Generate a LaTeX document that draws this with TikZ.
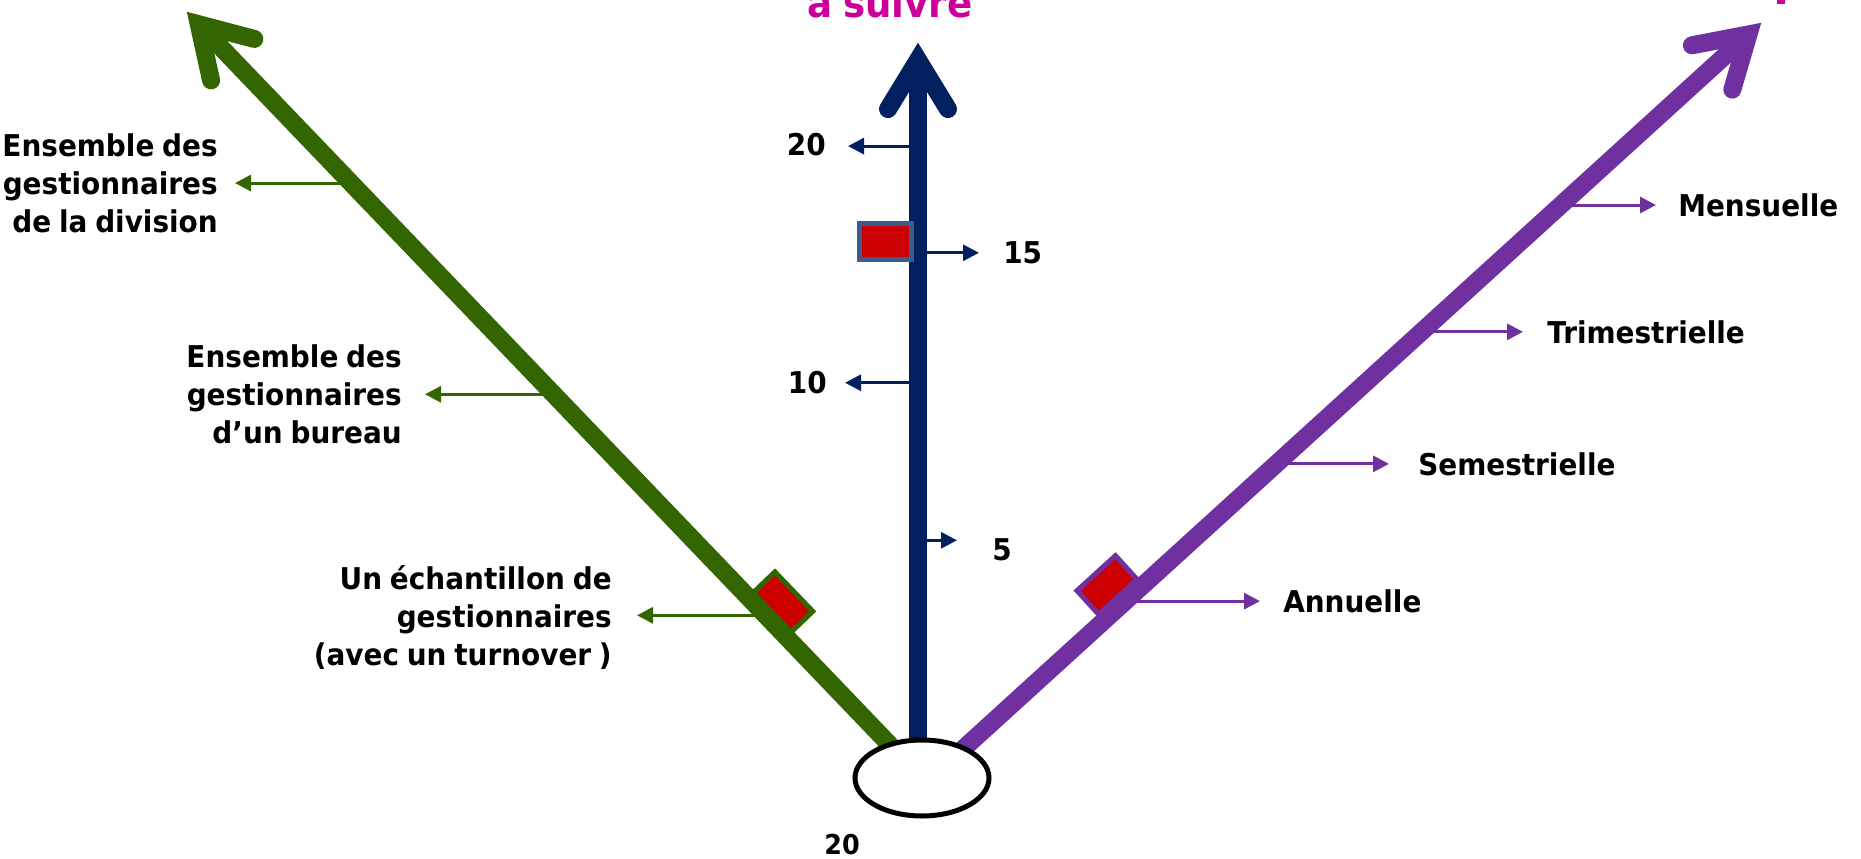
\documentclass[tikz,border=0pt]{standalone}
\usepackage{fontspec}
\setmainfont{DejaVu Sans}[FakeStretch=0.93, WordSpace=0.8]
\usetikzlibrary{arrows.meta,calc,shapes.geometric}
\definecolor{gr}{HTML}{336600}
\definecolor{nv}{HTML}{002060}
\definecolor{pu}{HTML}{7030A0}
\definecolor{rd}{HTML}{CC0000}
\definecolor{sb}{HTML}{385D8A}
\definecolor{mg}{HTML}{CC0099}
\newcommand\bigtip[3]{\draw[#3, line width=13.5pt, line cap=round, line join=miter]
  ($(#1)!54.4pt!24.4:(#2)$) -- ($(#1)!12.75pt!(#2)$) -- ($(#1)!54.4pt!-24.4:(#2)$);}
\begin{document}
\begin{tikzpicture}[x=0.75pt,y=-0.75pt,
  lbl/.style={font=\fontsize{22.5pt}{28.5pt}\selectfont\bfseries, inner sep=0pt, text=black},
  thin/.style={line width=2.25pt, -{Triangle[length=12pt,width=12pt]}},
  axisline/.style={line width=13.5pt},
  marker/.style={rectangle, fill=rd, line width=3.75pt, inner sep=0pt}]
\useasboundingbox (0,0) rectangle (1861,859);
\clip (0,0) rectangle (1861,859);

% axis end points
\coordinate (gS) at (913,769); \coordinate (gT) at (187,12);
\coordinate (bS) at (918,769); \coordinate (bT) at (918,43);
\coordinate (pS) at (941,769); \coordinate (pT) at (1761,23);

% title fragments
\node[font=\fontsize{30pt}{36pt}\selectfont\bfseries, text=mg, anchor=base, inner sep=0pt] (T) at (890,18) {à suivre};
\fill[mg] (1777,0) rectangle (1785,4);

% green labels
\node[lbl, align=right, anchor=north east] (G1) at (218,133) {Ensemble des\\gestionnaires\\de la division};
\node[lbl, align=right, anchor=north east] (G2) at (402,344) {Ensemble des\\gestionnaires\\d’un bureau};
\node[lbl, align=right, anchor=north east] (G3) at (612,565) {Un échantillon de\\gestionnaires\\(avec un turnover )};
\coordinate (g1) at ($(gS)!0.774!(gT)$); \coordinate (g1e) at (235,183);
\coordinate (g2) at ($(gS)!0.495!(gT)$); \coordinate (g2e) at (425,394);
\coordinate (g3) at ($(gS)!0.203!(gT)$); \coordinate (g3e) at (637,615);
\draw[thin, gr] (g1) -- (g1 -| g1e);
\draw[thin, gr] (g2) -- (g2 -| g2e);
\draw[thin, gr] (g3) -- (g3 -| g3e);

% blue labels
\node[lbl, anchor=east] (N20) at (826,145) {20};
\node[lbl, anchor=west] (N15) at (1003,253) {15};
\node[lbl, anchor=east] (N10) at (827,383) {10};
\node[lbl, anchor=west] (N5) at (992,550) {5};
\coordinate (b20) at ($(bS)!0.858!(bT)$); \coordinate (b20e) at (848,0);
\coordinate (b15) at ($(bS)!0.711!(bT)$); \coordinate (b15e) at (979,0);
\coordinate (b10) at ($(bS)!0.532!(bT)$); \coordinate (b10e) at (845,0);
\coordinate (b5)  at ($(bS)!0.315!(bT)$); \coordinate (b5e) at (957,0);
\draw[thin, nv] (b20) -- (b20 -| b20e);
\draw[thin, nv] (b15) -- (b15 -| b15e);
\draw[thin, nv] (b10) -- (b10 -| b10e);
\draw[thin, nv] (b5) -- (b5 -| b5e);

% purple labels
\node[lbl, anchor=west] (P1) at (1678,205) {Mensuelle};
\node[lbl, anchor=west] (P2) at (1547,332) {Trimestrielle};
\node[lbl, anchor=west] (P3) at (1418,464) {Semestrielle};
\node[lbl, anchor=west] (P4) at (1283,601) {Annuelle};
\coordinate (p1) at ($(pS)!0.756!(pT)$); \coordinate (p1e) at (1656,0);
\coordinate (p2) at ($(pS)!0.586!(pT)$); \coordinate (p2e) at (1523,0);
\coordinate (p3) at ($(pS)!0.409!(pT)$); \coordinate (p3e) at (1389,0);
\coordinate (p4) at ($(pS)!0.225!(pT)$); \coordinate (p4e) at (1260,0);
\draw[thin, pu] (p1) -- (p1 -| p1e);
\draw[thin, pu] (p2) -- (p2 -| p2e);
\draw[thin, pu] (p3) -- (p3 -| p3e);
\draw[thin, pu] (p4) -- (p4 -| p4e);

% markers under the slanted axes
\node[marker, draw=gr, minimum width=41pt, minimum height=22.5pt, rotate=-46.2] (MG) at (783,602) {};
\node[marker, draw=pu, minimum width=39pt, minimum height=24pt, rotate=42.3] (MP) at (1107,585) {};

% axes
\draw[axisline, gr] (gS) -- ($(gT)!12.75pt!(gS)$);
\bigtip{gT}{gS}{gr}
\draw[axisline, nv] (bS) -- ($(bT)!12.75pt!(bS)$);
\bigtip{bT}{bS}{nv}
\draw[axisline, pu] (pS) -- ($(pT)!12.75pt!(pS)$);
\bigtip{pT}{pS}{pu}

% marker on the vertical axis
\node[marker, draw=sb, minimum width=39pt, minimum height=27pt] (MB) at (885.5,241.5) {};

% origin ellipse
\node[ellipse, draw=black, fill=white, line width=3.75pt, minimum width=100.5pt, minimum height=57pt, inner sep=0pt] (E) at (922,778) {};
\node[font=\fontsize{20.5pt}{24pt}\selectfont\bfseries, inner sep=0pt] (B20) at (842,845) {20};
\end{tikzpicture}
\end{document}
